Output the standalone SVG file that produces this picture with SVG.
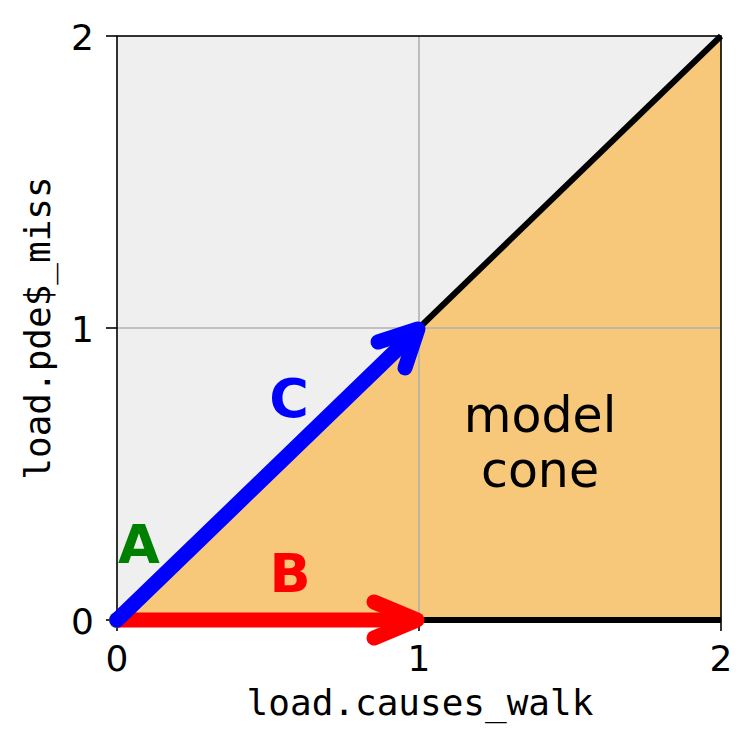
<svg xmlns="http://www.w3.org/2000/svg" width="756" height="751" viewBox="0 0 756 751">
<style>
.tick{stroke:#000;stroke-width:1.6}
.tl{font-family:"DejaVu Sans",sans-serif;font-size:36px;fill:#000}
.al{font-family:"DejaVu Sans Mono",monospace;font-size:36px;fill:#000}
.lab{font-family:"DejaVu Sans",sans-serif;font-size:54px;font-weight:bold}
.txt{font-family:"DejaVu Sans",sans-serif;font-size:49px;fill:#000}
.arr{fill:none;stroke-width:15;stroke-linecap:round;stroke-linejoin:round}
</style>
<rect width="756" height="751" fill="#fff"/>
<g id="plot">
<rect x="117" y="36" width="604" height="584" fill="#efefef"/>
<polygon id="cone" points="117,620 721,36 721,620" fill="#f7c87a"/>
<line x1="419" y1="36" x2="419" y2="620" stroke="#b0b0b0" stroke-width="1.6"/>
<line x1="117" y1="328" x2="721" y2="328" stroke="#b0b0b0" stroke-width="1.6"/>
<rect x="117" y="36" width="604" height="584" fill="none" stroke="#000" stroke-width="1.6"/>
</g>
<g id="ticks">
<line class="tick" x1="117" y1="620" x2="117" y2="631"/>
<line class="tick" x1="419" y1="620" x2="419" y2="631"/>
<line class="tick" x1="721" y1="620" x2="721" y2="631"/>
<line class="tick" x1="106" y1="620" x2="117" y2="620"/>
<line class="tick" x1="106" y1="328" x2="117" y2="328"/>
<line class="tick" x1="106" y1="36" x2="117" y2="36"/>
<text class="tl" x="117" y="671" text-anchor="middle">0</text>
<text class="tl" x="419" y="671" text-anchor="middle">1</text>
<text class="tl" x="721" y="671" text-anchor="middle">2</text>
<text class="tl" x="94" y="634" text-anchor="end">0</text>
<text class="tl" x="94" y="342" text-anchor="end">1</text>
<text class="tl" x="94" y="50" text-anchor="end">2</text>
<text class="al" x="420" y="715" text-anchor="middle">load.causes_walk</text>
<text class="al" transform="translate(50,328) rotate(-90)" text-anchor="middle">load.pde$_miss</text>
</g>
<g id="connectors">
<polyline points="419,328 721,36" fill="none" stroke="#000" stroke-width="6"/>
<polyline points="419,620 721,620" fill="none" stroke="#000" stroke-width="6"/>
<circle cx="117" cy="620" r="8" fill="#008000"/>
<g id="arrowB">
<polyline class="arr" stroke="#ff0000" points="117,620 412,620"/>
<polyline class="arr" stroke="#ff0000" points="374,602 417,620 374,638"/>
</g>
<g id="arrowC">
<polyline class="arr" stroke="#0000ff" points="117,620 413,334"/>
<polyline class="arr" stroke="#0000ff" points="378,342 418,329 405,368"/>
</g>
</g>
<g id="labels">
<text class="lab" fill="#008000" x="139" y="563" text-anchor="middle">A</text>
<text class="lab" fill="#ff0000" x="290" y="592" text-anchor="middle">B</text>
<text class="lab" fill="#0000ff" x="289" y="417" text-anchor="middle">C</text>
<text class="txt" x="540" y="432" text-anchor="middle">model</text>
<text class="txt" x="540" y="487" text-anchor="middle">cone</text>
</g>
</svg>
